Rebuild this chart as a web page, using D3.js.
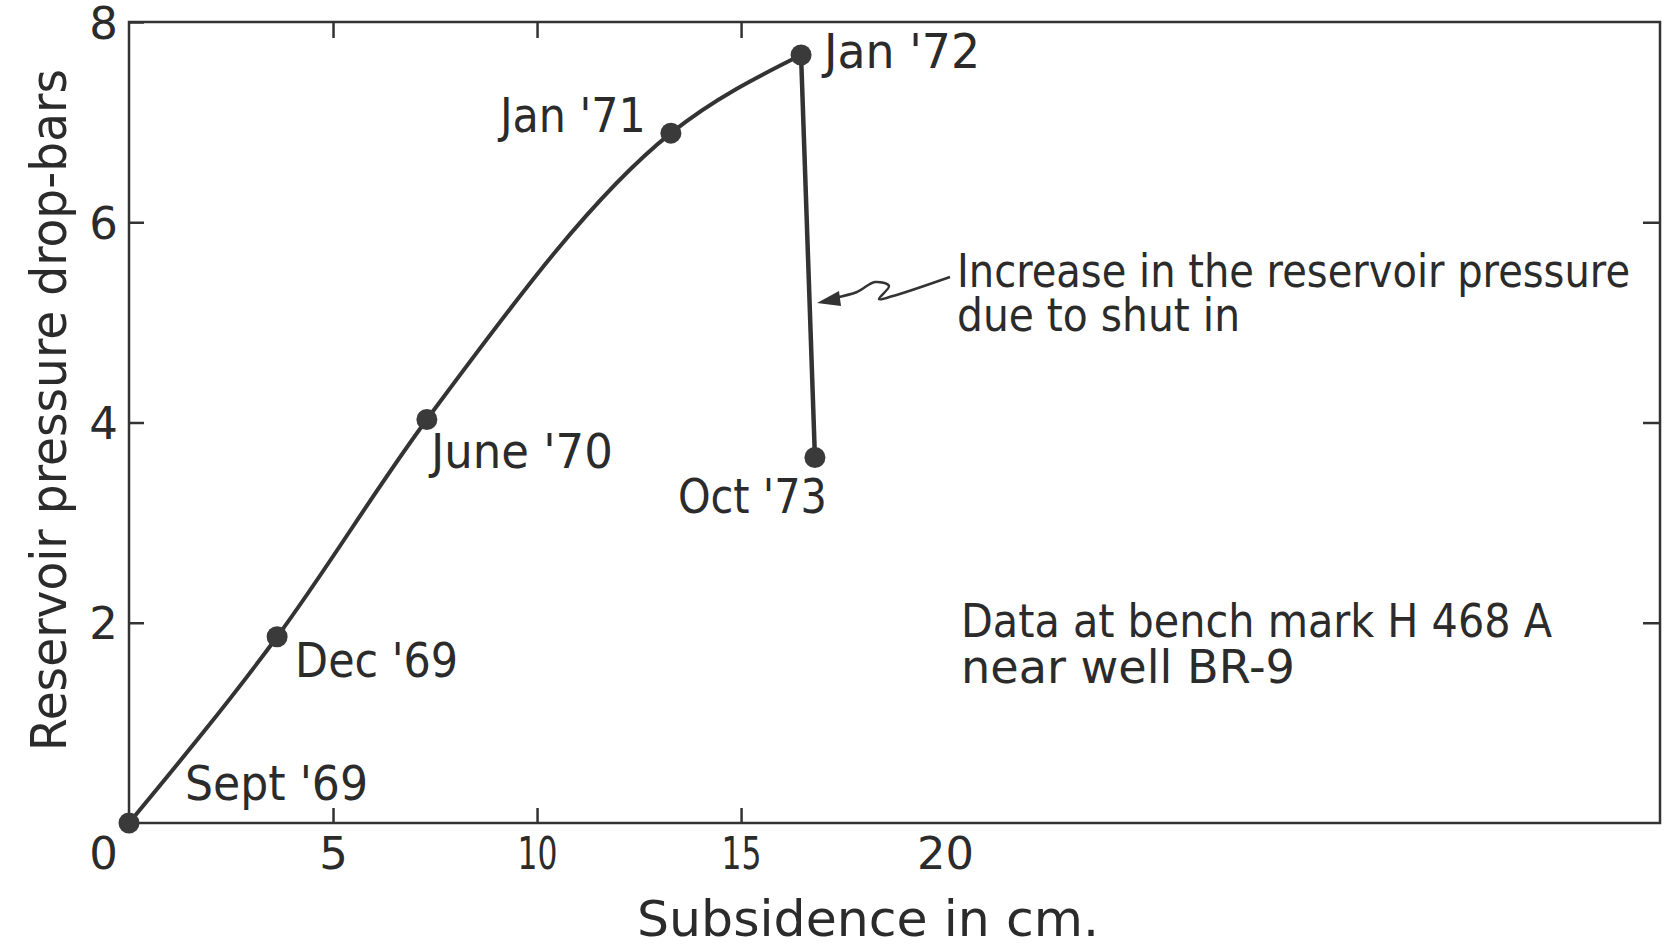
<!DOCTYPE html>
<html>
<head>
<meta charset="utf-8">
<script src="https://cdn.jsdelivr.net/npm/d3@7"></script>
<style>
  body { margin: 0; background: #fff; }
  svg text { font-family: "DejaVu Sans", "Liberation Sans", sans-serif; fill: #2b2b2b; }
</style>
</head>
<body>
<div id="chart"></div>
<script>
// values
const subsidence   = [0, 3.63, 7.30, 13.28, 16.47, 16.81];   // cm
const pressureDrop = [0, 1.86, 4.03, 6.89, 7.67, 3.65];      // bars
const dateLabels   = ["Sept '69", "Dec '69", "June '70", "Jan '71", "Jan '72", "Oct '73"];
const xTicks = [0, 5, 10, 15, 20];
const xMarks = [5, 10, 15];
const yTicks = [2, 4, 6, 8];
const yMarks = [2, 4, 6];
const noteLines = ["Increase in the reservoir pressure", "due to shut in"];
const siteLines = ["Data at bench mark H 468 A", "near well BR-9"];

const width = 1670, height = 948;
const plotL = 129, plotR = 1660, plotT = 22, plotB = 823;
const ink = '#333';

// label placement relative to each point: [dx, dy, anchor, textLength]
const labelPos = [
  [56, -23, 'start', 183],
  [18, 40, 'start', 163],
  [4, 49, 'start', 182],
  [-25, -1, 'end', 146],
  [23, 13, 'start', 156],
  [12, 55, 'end', 149]
];
// the lettering set narrow two-digit numbers
const tickWidth = { 10: 40, 15: 40, 20: 57 };

const x = d3.scaleLinear().domain([0, 37.52]).range([plotL, plotR]);
const y = d3.scaleLinear().domain([0, 8]).range([plotB, plotT]);

const svg = d3.select('#chart').append('svg')
  .attr('width', width)
  .attr('height', height);

// frame
svg.append('rect')
  .attr('x', plotL).attr('y', plotT)
  .attr('width', plotR - plotL).attr('height', plotB - plotT)
  .attr('fill', 'none').attr('stroke', ink).attr('stroke-width', 2.5);

function styleAxis(g) {
  g.select('.domain').remove();
  g.selectAll('.tick line').attr('stroke', ink).attr('stroke-width', 2.5);
  g.selectAll('.tick text').attr('font-size', 45).attr('fill', '#2b2b2b');
}

// bottom labels
const xAxis = svg.append('g')
  .attr('transform', 'translate(0,' + plotB + ')')
  .call(d3.axisBottom(x).tickValues(xTicks).tickSize(0).tickPadding(12))
  .call(styleAxis);
xAxis.selectAll('.tick text').filter(d => d === 0).attr('dx', -26);
xAxis.selectAll('.tick text').attr('dy', '0.76em');
xAxis.selectAll('.tick text').filter(d => tickWidth[d])
  .attr('textLength', d => tickWidth[d])
  .attr('lengthAdjust', 'spacingAndGlyphs');

// bottom inward marks
svg.append('g')
  .attr('transform', 'translate(0,' + plotB + ')')
  .call(d3.axisBottom(x).tickValues(xMarks).tickSizeInner(-15).tickFormat(''))
  .call(styleAxis);

// top inward marks
svg.append('g')
  .attr('transform', 'translate(0,' + plotT + ')')
  .call(d3.axisTop(x).tickValues(xMarks).tickSizeInner(-16).tickFormat(''))
  .call(styleAxis);

// left axis
const yAxis = svg.append('g')
  .attr('transform', 'translate(' + plotL + ',0)')
  .call(d3.axisLeft(y).tickValues(yTicks).tickSizeInner(-15).tickPadding(11))
  .call(styleAxis);
yAxis.selectAll('.tick text').attr('dy', '0.36em');

// right inward marks
svg.append('g')
  .attr('transform', 'translate(' + plotR + ',0)')
  .call(d3.axisRight(y).tickValues(yMarks).tickSizeInner(-17).tickFormat(''))
  .call(styleAxis);

// axis titles
svg.append('text')
  .attr('x', 868).attr('y', 936)
  .attr('text-anchor', 'middle')
  .attr('font-size', 50)
  .attr('textLength', 462).attr('lengthAdjust', 'spacingAndGlyphs')
  .text('Subsidence in cm.');

svg.append('text')
  .attr('transform', 'translate(66,410) rotate(-90)')
  .attr('text-anchor', 'middle')
  .attr('font-size', 50)
  .attr('textLength', 682).attr('lengthAdjust', 'spacingAndGlyphs')
  .text('Reservoir pressure drop-bars');

// data
const pts = subsidence.map((s, i) => ({ s: s, p: pressureDrop[i], label: dateLabels[i], pos: labelPos[i] }));

const curve = d3.line()
  .x(d => x(d.s))
  .y(d => y(d.p))
  .curve(d3.curveMonotoneX);

svg.append('path')
  .datum(pts.slice(0, 5))
  .attr('d', curve)
  .attr('fill', 'none').attr('stroke', ink).attr('stroke-width', 4);

// shut-in drop, straight line
svg.append('path')
  .datum(pts.slice(4))
  .attr('d', d3.line().x(d => x(d.s)).y(d => y(d.p)))
  .attr('fill', 'none').attr('stroke', ink).attr('stroke-width', 4.5);

svg.selectAll('.dot')
  .data(pts)
  .enter()
  .append('circle')
  .attr('class', 'dot')
  .attr('cx', d => x(d.s))
  .attr('cy', d => y(d.p))
  .attr('r', 10.5)
  .attr('fill', '#3a3a3a');

svg.selectAll('.date')
  .data(pts)
  .enter()
  .append('text')
  .attr('class', 'date')
  .attr('x', d => x(d.s) + d.pos[0])
  .attr('y', d => y(d.p) + d.pos[1])
  .attr('text-anchor', d => d.pos[2])
  .attr('font-size', 48)
  .attr('textLength', d => d.pos[3])
  .attr('lengthAdjust', 'spacingAndGlyphs')
  .text(d => d.label);

// annotation: shut in note with squiggly arrow
const noteWidths = [673, 283];
svg.selectAll('.note')
  .data(noteLines)
  .enter()
  .append('text')
  .attr('class', 'note')
  .attr('x', 957)
  .attr('y', (d, i) => 287 + i * 44)
  .attr('font-size', 46)
  .attr('textLength', (d, i) => noteWidths[i])
  .attr('lengthAdjust', 'spacingAndGlyphs')
  .text(d => d);

const squiggle = [[950, 277], [893, 296], [879, 299], [889, 286], [875, 282], [857, 292], [834, 298]];
svg.append('path')
  .attr('d', d3.line().curve(d3.curveCatmullRom)(squiggle))
  .attr('fill', 'none').attr('stroke', ink).attr('stroke-width', 2.5);
svg.append('path')
  .attr('d', 'M817,303 L839,291 L841,306 Z')
  .attr('fill', ink);

// site note
const siteWidths = [591, 334];
svg.selectAll('.site')
  .data(siteLines)
  .enter()
  .append('text')
  .attr('class', 'site')
  .attr('x', 961)
  .attr('y', (d, i) => 637 + i * 46)
  .attr('font-size', 46)
  .attr('textLength', (d, i) => siteWidths[i])
  .attr('lengthAdjust', 'spacingAndGlyphs')
  .text(d => d);
</script>
</body>
</html>
